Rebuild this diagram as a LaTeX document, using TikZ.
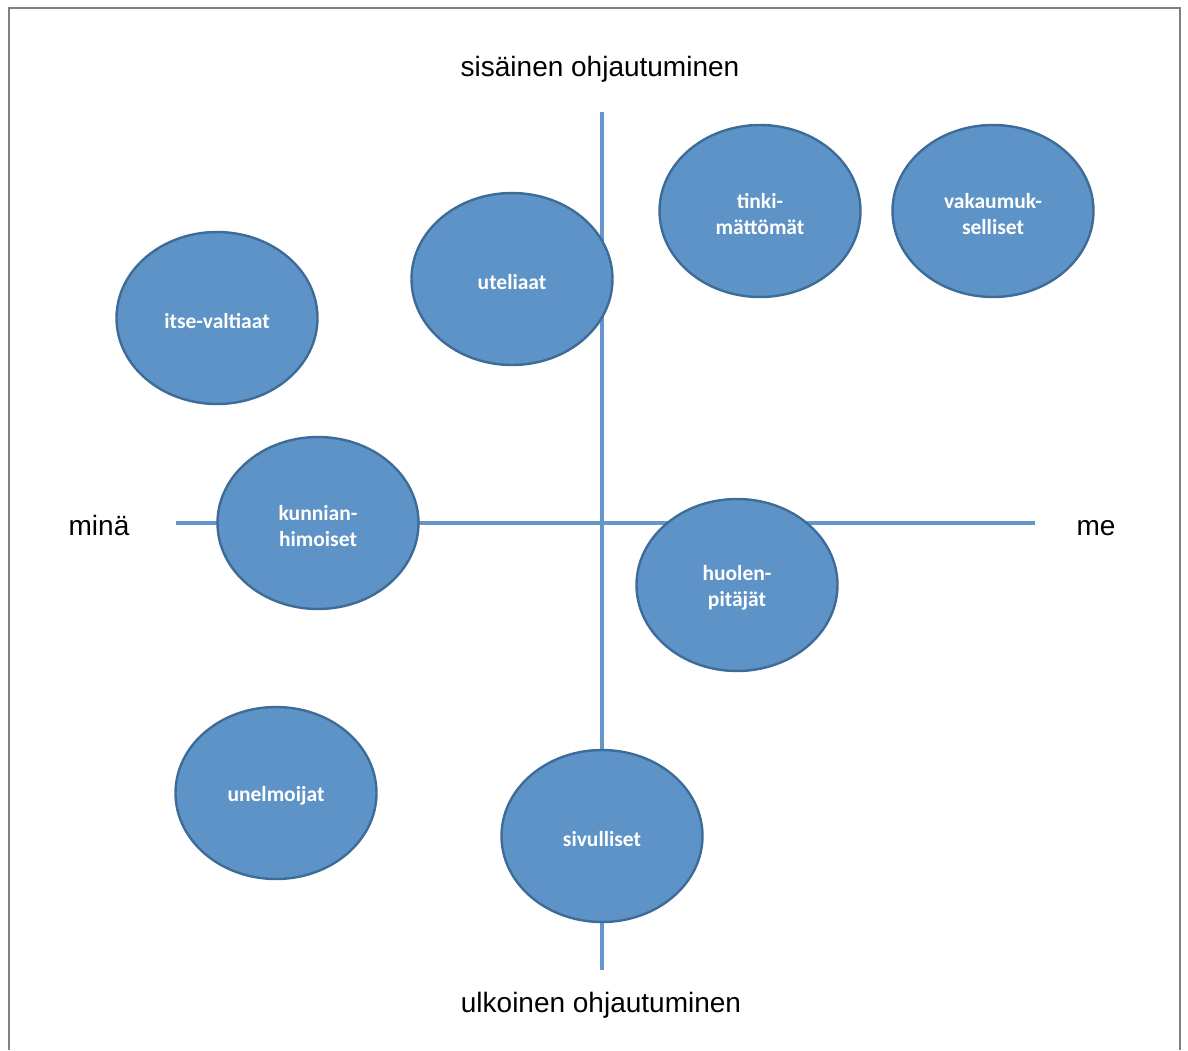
\documentclass[tikz,border=0pt]{standalone}
\usepackage{fontspec}
\setmainfont{Liberation Sans}
\newfontfamily\soikiofont{Carlito}
\usetikzlibrary{shapes.geometric}
\definecolor{soikiofill}{RGB}{94,147,199}
\definecolor{soikioedge}{RGB}{62,108,152}
\definecolor{akseli}{RGB}{100,150,203}
\definecolor{kehys}{RGB}{128,128,128}

\begin{document}
\begin{tikzpicture}[x=1pt, y=-1pt,
    tyyppi/.style={ellipse, draw=soikioedge, line width=2.4pt, fill=soikiofill,
        minimum width=201pt, minimum height=172pt, inner sep=0pt, text=white,
        text height=21pt, align=center,
        font=\soikiofont\bfseries\fontsize{21.5}{26}\selectfont},
    kaksirivi/.style={tyyppi, text height=47pt},
    akselinimi/.style={font=\fontsize{28}{34}\selectfont}]
    \useasboundingbox (0,0) rectangle (1188,1050);

    % Frame, open at the bottom
    \draw[kehys, line width=2pt] (8.5,1050) -- (8.5,7.5) -- (1180,7.5) -- (1180,1050);

    % Axes
    \coordinate (yla) at (602,112);
    \coordinate (ala) at (602,970);
    \coordinate (vasen) at (176,523);
    \coordinate (oikea) at (1035,523);
    \draw[akseli, line width=3.5pt] (yla) -- (ala);
    \draw[akseli, line width=3.5pt] (vasen) -- (oikea);

    % Axis labels
    \node[akselinimi] (sisainen) at (600,69) {sisäinen ohjautuminen};
    \node[akselinimi] (ulkoinen) at (601,1005) {ulkoinen ohjautuminen};
    \node[akselinimi] (mina) at (99,525) {minä};
    \node[akselinimi] (me) at (1096,528) {me};

    % Groups
    \node[tyyppi] (itse) at (217,318) {itse-valtiaat};
    \node[tyyppi] (uteliaat) at (512,279) {uteliaat};
    \node[kaksirivi] (tinki) at (760,211) {tinki-\\mättömät};
    \node[kaksirivi] (vakaumus) at (993,211) {vakaumuk-\\selliset};
    \node[kaksirivi] (kunnia) at (318,523) {kunnian-\\himoiset};
    \node[kaksirivi] (huoli) at (737,585) {huolen-\\pitäjät};
    \node[tyyppi] (unelma) at (276,793) {unelmoijat};
    \node[tyyppi] (sivu) at (602,836) {sivulliset};
\end{tikzpicture}
\end{document}
